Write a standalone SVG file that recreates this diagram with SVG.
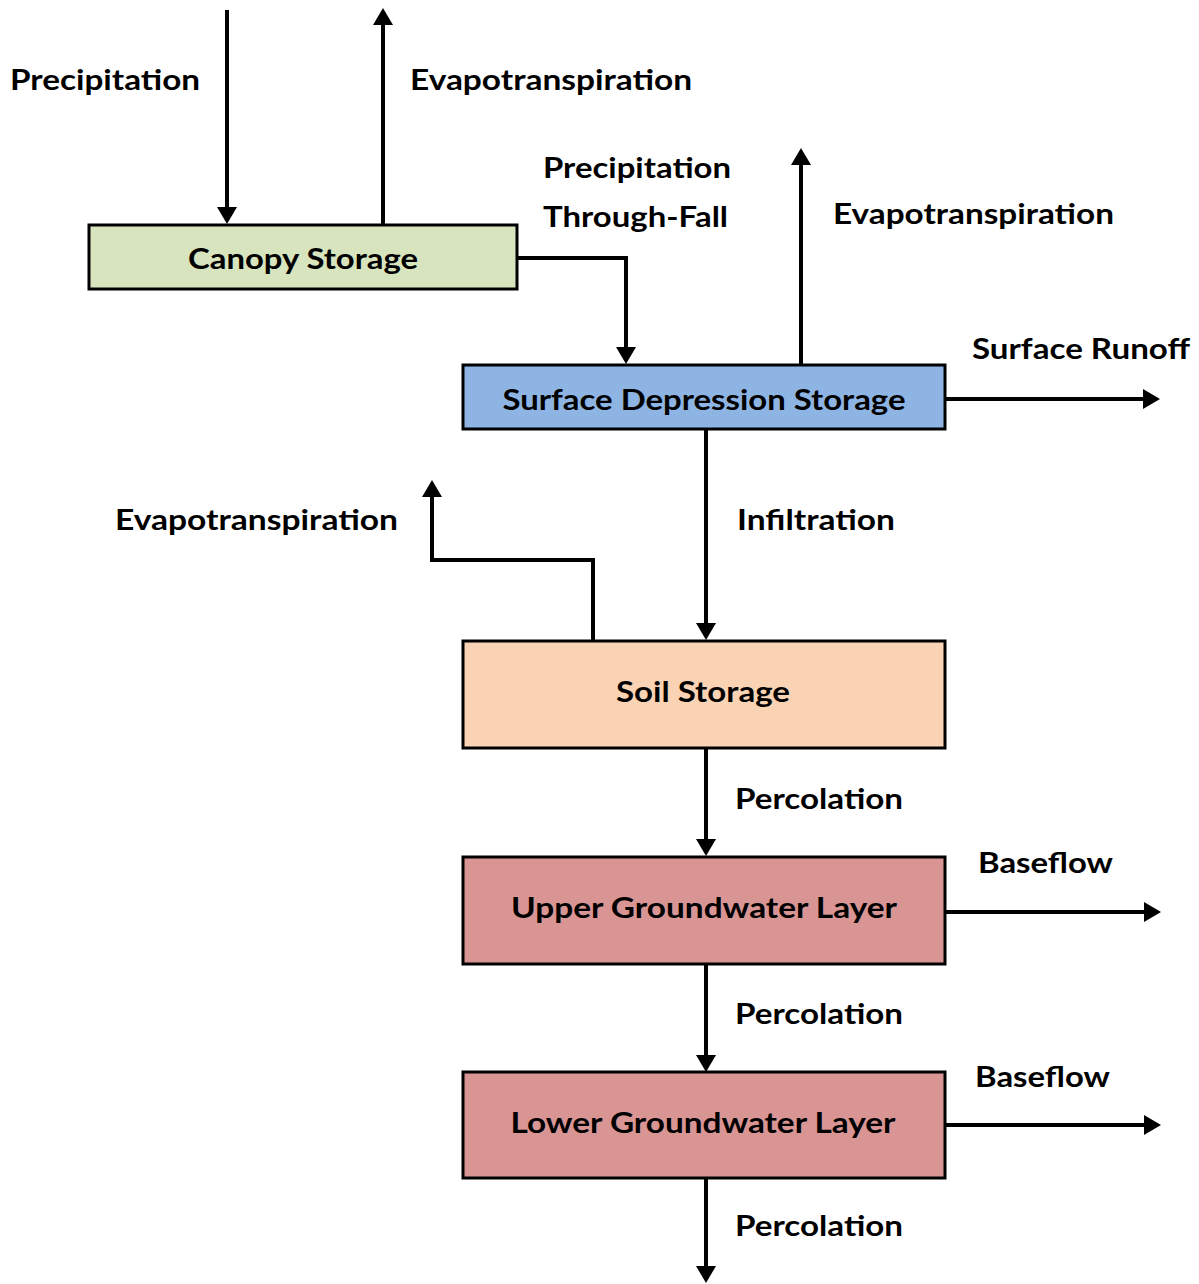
<svg xmlns="http://www.w3.org/2000/svg" width="1199" height="1284" viewBox="0 0 1199 1284">
<style>
.box{stroke:#000;stroke-width:3}
.lbl{font-family:Lato,"Liberation Sans",sans-serif;font-weight:700;font-size:29px;fill:#000}
.mid{text-anchor:middle}
.cn{fill:none;stroke:#000;stroke-width:4;marker-end:url(#ah)}
</style>
<defs>
<marker id="ah" markerUnits="userSpaceOnUse" markerWidth="17" markerHeight="20" viewBox="0 0 17 20" refX="7" refY="10" orient="auto">
<path d="M0,0 L17,10 L0,20 Z" fill="#000"/>
</marker>
</defs>
<rect width="1199" height="1284" fill="#fff"/>
<g id="connectors">
<path class="cn" d="M227,10 V214"/>
<path class="cn" d="M383,225 V18"/>
<path class="cn" d="M517,258 H626 V354"/>
<path class="cn" d="M801,365 V158"/>
<path class="cn" d="M945,399 H1150"/>
<path class="cn" d="M706,429 V630"/>
<path class="cn" d="M593,641 V560 H432 V490"/>
<path class="cn" d="M706,748 V846"/>
<path class="cn" d="M945,912 H1151"/>
<path class="cn" d="M706,964 V1062"/>
<path class="cn" d="M945,1125 H1151"/>
<path class="cn" d="M706,1178 V1273"/>
</g>
<g id="canopy">
<rect class="box" x="89" y="225" width="428" height="64" fill="#D7E4BD"/>
<text class="lbl mid" x="303" y="269" textLength="230" lengthAdjust="spacingAndGlyphs">Canopy Storage</text>
</g>
<g id="surface">
<rect class="box" x="463" y="365" width="482" height="64" fill="#8EB4E3"/>
<text class="lbl mid" x="704" y="410" textLength="403" lengthAdjust="spacingAndGlyphs">Surface Depression Storage</text>
</g>
<g id="soil">
<rect class="box" x="463" y="641" width="482" height="107" fill="#FAD3B4"/>
<text class="lbl mid" x="703" y="702" textLength="174" lengthAdjust="spacingAndGlyphs">Soil Storage</text>
</g>
<g id="upper">
<rect class="box" x="463" y="857" width="482" height="107" fill="#D99594"/>
<text class="lbl mid" x="704" y="918" textLength="386" lengthAdjust="spacingAndGlyphs">Upper Groundwater Layer</text>
</g>
<g id="lower">
<rect class="box" x="463" y="1072" width="482" height="106" fill="#D99594"/>
<text class="lbl mid" x="703" y="1133" textLength="385" lengthAdjust="spacingAndGlyphs">Lower Groundwater Layer</text>
</g>
<g id="labels">
<text class="lbl" x="10" y="90" textLength="190" lengthAdjust="spacingAndGlyphs">Precipitation</text>
<text class="lbl" x="410" y="90" textLength="282" lengthAdjust="spacingAndGlyphs">Evapotranspiration</text>
<text class="lbl" x="543" y="178" textLength="188" lengthAdjust="spacingAndGlyphs">Precipitation</text>
<text class="lbl" x="543" y="227" textLength="185" lengthAdjust="spacingAndGlyphs">Through-Fall</text>
<text class="lbl" x="833" y="224" textLength="281" lengthAdjust="spacingAndGlyphs">Evapotranspiration</text>
<text class="lbl" x="972" y="359" textLength="218" lengthAdjust="spacingAndGlyphs">Surface Runoff</text>
<text class="lbl" x="115" y="530" textLength="283" lengthAdjust="spacingAndGlyphs">Evapotranspiration</text>
<text class="lbl" x="737" y="530" textLength="158" lengthAdjust="spacingAndGlyphs">Infiltration</text>
<text class="lbl" x="735" y="809" textLength="168" lengthAdjust="spacingAndGlyphs">Percolation</text>
<text class="lbl" x="978" y="873" textLength="135" lengthAdjust="spacingAndGlyphs">Baseflow</text>
<text class="lbl" x="735" y="1024" textLength="168" lengthAdjust="spacingAndGlyphs">Percolation</text>
<text class="lbl" x="975" y="1087" textLength="135" lengthAdjust="spacingAndGlyphs">Baseflow</text>
<text class="lbl" x="735" y="1236" textLength="168" lengthAdjust="spacingAndGlyphs">Percolation</text>
</g>
</svg>
